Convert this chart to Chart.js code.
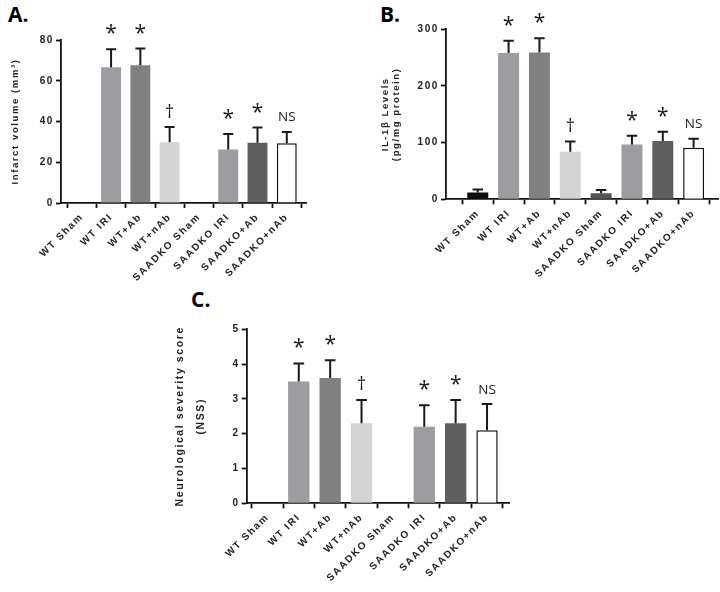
<!DOCTYPE html>
<html><head><meta charset="utf-8">
<script src="https://cdn.jsdelivr.net/npm/chart.js@4"></script>
<style>
body{margin:0;background:#fff;width:720px;height:592px;position:relative;overflow:hidden}
canvas{position:absolute}
.lbl{position:absolute;font-family:'Open Sans';font-weight:700;font-size:21px;line-height:21px;color:#000}
</style></head><body>
<div class="lbl" style="left:8px;top:4px">A.</div>
<div class="lbl" style="left:380px;top:4px">B.</div>
<div class="lbl" style="left:191px;top:289px">C.</div>
<canvas id="cA" width="360" height="290" style="left:0;top:0;width:360px;height:290px"></canvas>
<canvas id="cB" width="360" height="290" style="left:360px;top:0;width:360px;height:290px"></canvas>
<canvas id="cC" width="380" height="307" style="left:170px;top:285px;width:380px;height:307px"></canvas>
<script>
const categories = ['WT Sham','WT IRI','WT+Ab','WT+nAb','SAADKO Sham','SAADKO IRI','SAADKO+Ab','SAADKO+nAb'];

const infarctVolume = [0, 66.6, 67.6, 29.8, 0, 26.3, 29.6, 29.3];
const infarctSEM    = [null, 8.8, 8.2, 7.5, null, 7.6, 7.4, 5.6];
const infarctMarks  = ['', '*', '*', '†', '', '*', '*', 'NS'];

const il1bLevels = [11.8, 258, 259, 84, 10.8, 96.5, 103, 91];
const il1bSEM    = [5.5, 22, 25, 17.8, 5.8, 15.5, 16, 16];
const il1bMarks  = ['', '*', '*', '†', '', '*', '*', 'NS'];

const nssScore = [0, 3.5, 3.6, 2.3, 0, 2.2, 2.3, 2.1];
const nssSEM   = [null, 0.52, 0.51, 0.67, null, 0.62, 0.67, 0.75];
const nssMarks = ['', '*', '*', '†', '', '*', '*', 'NS'];

const barColors = ['#0d0d0d','#9c9ca1','#808080','#d4d4d4','#555555','#9c9ca1','#5e5e5e','#ffffff'];
const barBorders = [0,0,0,0,0,0,0,1.5];

Chart.defaults.font.family = "'Liberation Sans', Arial, sans-serif";
Chart.defaults.color = '#222';

const spacingPlugin = {
  id: 'spacing',
  beforeDraw(chart) { chart.ctx.letterSpacing = '1.6px'; }
};

const markStyles = {
  '*':  {font: '400 21px "Open Sans"', off: 20},
  '†':  {font: '400 18px "Open Sans"', off: 16.5},
  'NS': {font: '400 13.5px "Open Sans"', off: 15}
};

const errPlugin = {
  id: 'errbars',
  afterDatasetsDraw(chart, args, opts) {
    const ctx = chart.ctx;
    const meta = chart.getDatasetMeta(0);
    const ys = chart.scales.y;
    ctx.save();
    ctx.letterSpacing = '0px';
    ctx.strokeStyle = '#1a1a1a';
    ctx.fillStyle = '#1a1a1a';
    ctx.lineWidth = 2;
    meta.data.forEach((bar, i) => {
      const v = opts.values[i];
      const e = opts.sem[i];
      const top = v + (e || 0);
      const pTop = ys.getPixelForValue(top);
      if (e) {
        const pv = ys.getPixelForValue(v);
        const hw = bar.width * 0.25;
        ctx.beginPath();
        ctx.moveTo(bar.x, pv);
        ctx.lineTo(bar.x, pTop);
        ctx.moveTo(bar.x - hw, pTop);
        ctx.lineTo(bar.x + hw, pTop);
        ctx.stroke();
      }
      const m = opts.marks[i];
      if (m) {
        const st = markStyles[m];
        ctx.font = st.font;
        ctx.textAlign = 'center';
        ctx.textBaseline = 'alphabetic';
        const mt = ctx.measureText(m);
        const cy = pTop - st.off;
        const base = cy + (mt.actualBoundingBoxAscent - mt.actualBoundingBoxDescent) / 2;
        ctx.fillText(m, bar.x, base);
      }
    });
    ctx.restore();
  }
};

const tickFont = {size: 10, weight: 'bold'};

function makeChart(id, values, sem, marks, cfg) {
  return new Chart(document.getElementById(id), {
    type: 'bar',
    data: {
      datasets: [{
        data: values.map((v, i) => ({x: i, y: v})),
        backgroundColor: barColors,
        borderColor: '#111',
        borderWidth: barBorders,
        categoryPercentage: 1,
        barPercentage: 0.68
      }]
    },
    options: {
      responsive: false,
      animation: false,
      layout: {padding: cfg.padding},
      plugins: {
        legend: {display: false},
        tooltip: {enabled: false},
        errbars: {values, sem, marks}
      },
      scales: {
        x: {
          type: 'linear',
          min: cfg.xMin, max: cfg.xMax,
          offset: false,
          afterBuildTicks: s => { s.ticks = categories.map((c, i) => ({value: i})); },
          afterFit: s => { s.height = cfg.xHeight; },
          ticks: {
            autoSkip: false, minRotation: 45, maxRotation: 45, padding: 3,
            includeBounds: false,
            callback: v => categories[v],
            color: '#222', font: tickFont
          },
          grid: {drawOnChartArea: false, drawTicks: true, tickLength: 5, tickColor: '#111', tickWidth: 1.8},
          border: {color: '#111', width: 1.8}
        },
        y: {
          min: 0, max: cfg.yMax,
          afterFit: s => { s.width = cfg.yWidth; },
          ticks: {stepSize: cfg.yStep, padding: 2, color: '#222', font: tickFont},
          grid: {drawOnChartArea: false, drawTicks: true, tickLength: 5, tickColor: '#111', tickWidth: 1.8},
          border: {color: '#111', width: 1.8},
          title: {display: true, text: cfg.title, color: '#222',
                  font: cfg.titleFont, padding: {top: cfg.titlePad, bottom: 0}}
        }
      }
    },
    plugins: [spacingPlugin, errPlugin]
  });
}

makeChart('cA', infarctVolume, infarctSEM, infarctMarks, {
  xMin: -0.71, xMax: 7.68, yMax: 80, yStep: 20,
  padding: {left: 0, top: 40, right: 53.3, bottom: 0},
  xHeight: 87, yWidth: 61,
  title: 'Infarct volume (mm³)', titleFont: {size: 9.5, weight: 'bold', lineHeight: 1.2}, titlePad: 9.3
});

makeChart('cB', il1bLevels, il1bSEM, il1bMarks, {
  xMin: -1.03, xMax: 7.80, yMax: 300, yStep: 100,
  padding: {left: 0, top: 29.3, right: 1.7, bottom: 0},
  xHeight: 90.7, yWidth: 86,
  title: ['IL-1β Levels', '(pg/mg protein)'], titleFont: {size: 9.5, weight: 'bold', lineHeight: 1.2}, titlePad: 19.3
});

makeChart('cC', nssScore, nssSEM, nssMarks, {
  xMin: -0.66, xMax: 7.70, yMax: 5, yStep: 1,
  padding: {left: 0, top: 44.3, right: 41, bottom: 0},
  xHeight: 88.7, yWidth: 76.7,
  title: ['Neurological severity score', '(NSS)'], titleFont: {size: 10.5, weight: 'bold', lineHeight: 2.0}, titlePad: 0
});
</script>
</body></html>
